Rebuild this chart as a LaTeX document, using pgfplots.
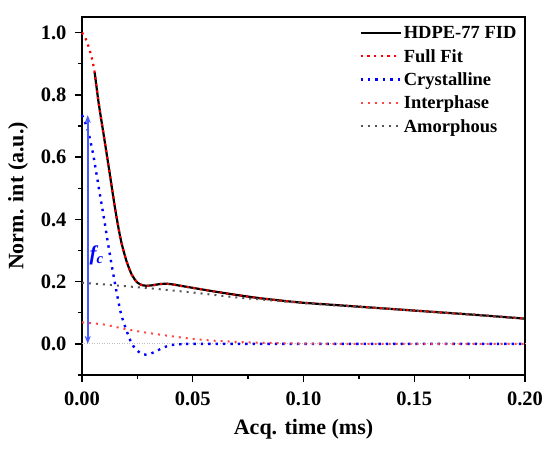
\documentclass[border=0pt]{standalone}
\usepackage{fontspec}
\setmainfont{Liberation Serif}
\usepackage{pgfplots}
\pgfplotsset{compat=1.18}
\usetikzlibrary{arrows.meta}

\definecolor{ampgrey}{RGB}{85,85,85}
\definecolor{intred}{RGB}{255,70,70}
\definecolor{arrowblue}{RGB}{70,90,255}

\begin{document}
\begin{tikzpicture}
\useasboundingbox (-82pt,-73pt) rectangle (465pt,375pt);
\begin{axis}[
    scale only axis,
    width=443pt, height=358pt,
    xmin=0, xmax=0.2, ymin=-0.1, ymax=1.05,
    xtick={0,0.05,...,0.2}, ytick={0,0.2,...,1.0},
    minor x tick num=1,
    minor ytick={-0.1,0.1,0.3,0.5,0.7,0.9},
    xtick pos=left, ytick pos=left,
    tick align=outside,
    major tick length=7pt, minor tick length=4pt,
    every tick/.style={black, line width=1.4pt},
    axis line style={line width=1.8pt},
    /pgf/number format/assume math mode=true,
    xticklabel style={/pgf/number format/fixed, /pgf/number format/fixed zerofill,
        /pgf/number format/precision=2, yshift=-6pt},
    yticklabel style={/pgf/number format/fixed, /pgf/number format/fixed zerofill,
        /pgf/number format/precision=1, xshift=-5pt},
    ticklabel style={font=\bfseries\fontsize{20.5}{22}\selectfont},
    label style={font=\bfseries\fontsize{22}{24}\selectfont},
    xlabel={Acq. time (ms)},
    ylabel={Norm. int (a.u.)},
    xlabel style={yshift=-7pt},
    ylabel style={yshift=6pt},
    scaled x ticks=false,
    clip=false,
    legend style={at={(0.99,0.985)}, anchor=north east, draw=none, fill=none,
        font=\bfseries\fontsize{18.5}{20}\selectfont,
        row sep=5pt, inner sep=2pt},
    legend cell align=left,
    legend image code/.code={\draw[#1] (0pt,0pt) -- (40pt,0pt);},
]
% zero line
\addplot[lightgray, line width=1pt, dash pattern=on 1pt off 1.5pt, forget plot] coordinates {(0,0) (0.2,0)};

% HDPE-77 FID
\addplot[black, line width=2.2pt, smooth] coordinates {
 (0.0057,0.873) (0.0075,0.775) (0.01,0.662) (0.0125,0.548) (0.015,0.432)
 (0.0175,0.335) (0.02,0.268) (0.0225,0.222) (0.025,0.197) (0.0275,0.188)
 (0.03,0.187) (0.0325,0.189) (0.035,0.192) (0.0375,0.193) (0.04,0.192)
 (0.045,0.186) (0.05,0.180) (0.06,0.168) (0.07,0.157) (0.08,0.147)
 (0.09,0.139) (0.10,0.132) (0.12,0.122) (0.14,0.112) (0.15,0.107)
 (0.16,0.102) (0.18,0.092) (0.20,0.081) };
\addlegendentry{HDPE-77 FID}

% Full Fit
\addplot[red, line width=2.2pt, dash pattern=on 2.2pt off 4.5pt, smooth] coordinates {
 (0,1.0) (0.002,0.975) (0.004,0.93) (0.0057,0.873) (0.0075,0.775) (0.01,0.662)
 (0.0125,0.548) (0.015,0.432) (0.0175,0.335) (0.02,0.268) (0.0225,0.222)
 (0.025,0.197) (0.0275,0.188) (0.03,0.187) (0.0325,0.189) (0.035,0.192)
 (0.0375,0.193) (0.04,0.192) (0.045,0.186) (0.05,0.180) (0.06,0.168)
 (0.07,0.157) (0.08,0.147) (0.09,0.139) (0.10,0.132) (0.12,0.122)
 (0.14,0.112) (0.15,0.107) (0.16,0.102) (0.18,0.092) (0.20,0.081) };
\addlegendentry{Full Fit}

% Crystalline
\addplot[blue, line width=2.4pt, dash pattern=on 2.4pt off 5pt, smooth] coordinates {
 (0,0.735) (0.0025,0.69) (0.005,0.61) (0.0075,0.505) (0.01,0.40)
 (0.0125,0.29) (0.015,0.19) (0.0175,0.10) (0.02,0.045) (0.0225,0.0)
 (0.025,-0.022) (0.0275,-0.034) (0.03,-0.033) (0.0325,-0.027) (0.035,-0.018)
 (0.0375,-0.010) (0.04,-0.004) (0.045,-0.001) (0.05,0) (0.1,0) (0.15,0) (0.2,0) };
\addlegendentry{Crystalline}

% Interphase
\addplot[intred, line width=2pt, dash pattern=on 2pt off 5pt, smooth] coordinates {
 (0,0.069) (0.01,0.062) (0.02,0.047) (0.03,0.035) (0.04,0.025) (0.05,0.016)
 (0.06,0.010) (0.07,0.0065) (0.08,0.004) (0.09,0.002) (0.1,0.001) (0.12,0)
 (0.15,0) (0.2,0) };
\addlegendentry{Interphase}

% Amorphous
\addplot[ampgrey, line width=2pt, dash pattern=on 2pt off 5pt, smooth] coordinates {
 (0,0.196) (0.01,0.191) (0.02,0.185) (0.03,0.179) (0.04,0.172) (0.05,0.165)
 (0.06,0.157) (0.07,0.149) (0.08,0.143) (0.09,0.137) (0.10,0.131)
 (0.12,0.121) (0.14,0.112) (0.15,0.107) (0.16,0.102) (0.18,0.092) (0.20,0.081) };
\addlegendentry{Amorphous}

% f_c arrow
\draw[arrowblue, line width=1.5pt, {Stealth[length=8pt,width=6pt]}-{Stealth[length=8pt,width=6pt]}]
  (axis cs:0.0026,0.735) -- (axis cs:0.0026,0.0);
\node[anchor=west, text=blue, font=\bfseries\itshape\fontsize{21}{22}\selectfont, inner sep=0pt]
  at (axis cs:0.0034,0.285) {f\textsubscript{c}};
\end{axis}
\end{tikzpicture}
\end{document}
